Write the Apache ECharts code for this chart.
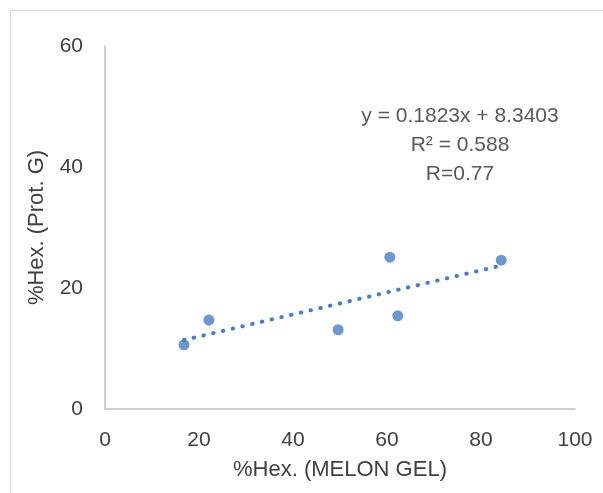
<!DOCTYPE html>
<html>
<head>
<meta charset="utf-8">
<script src="https://cdn.jsdelivr.net/npm/echarts@6/dist/echarts.min.js"></script>
<style>html,body{margin:0;padding:0;background:#fff;}#c{width:603px;height:493px;}</style>
</head>
<body>
<div id="c"></div>
<script>
var xValues = [16.8, 22.1, 49.6, 60.6, 62.3, 84.3];
var yValues = [10.6, 14.7, 13.1, 25.1, 15.4, 24.6];
var xTicks = [0, 20, 40, 60, 80, 100];
var yTicks = [0, 20, 40, 60];
var slope = 0.1823, intercept = 8.3403;
var eqLines = ['y = 0.1823x + 8.3403', 'R\u00B2 = 0.588', 'R=0.77'];

var pts = xValues.map(function (x, i) { return [x, yValues[i]]; });
var xMin = Math.min.apply(null, xValues), xMax = Math.max.apply(null, xValues);
var trend = [[xMin, slope * xMin + intercept], [xMax, slope * xMax + intercept]];

var font = '"Liberation Sans", Arial, sans-serif';
var chart = echarts.init(document.getElementById('c'));
chart.setOption({
  animation: false,
  backgroundColor: '#fff',
  grid: { left: 105, right: 28, top: 46, bottom: 84 },
  xAxis: {
    type: 'value', min: xTicks[0], max: xTicks[xTicks.length - 1], interval: xTicks[1] - xTicks[0],
    name: '%Hex. (MELON GEL)', nameLocation: 'middle', nameGap: 50,
    nameTextStyle: { fontSize: 22, color: '#404040', fontFamily: font },
    axisLine: { lineStyle: { color: '#bfbfbf', width: 1.5 } },
    axisTick: { show: false },
    splitLine: { show: false },
    axisLabel: { fontSize: 21, color: '#404040', fontFamily: font, margin: 21 }
  },
  yAxis: {
    type: 'value', min: yTicks[0], max: yTicks[yTicks.length - 1], interval: yTicks[1] - yTicks[0],
    name: '%Hex. (Prot. G)', nameLocation: 'middle', nameGap: 57,
    nameTextStyle: { fontSize: 22, color: '#404040', fontFamily: font },
    axisLine: { show: true, lineStyle: { color: '#bfbfbf', width: 1.5 } },
    axisTick: { show: false },
    splitLine: { show: false },
    axisLabel: { fontSize: 21, color: '#404040', fontFamily: font, margin: 22 }
  },
  graphic: [
    { type: 'rect', shape: { x: 10.5, y: 10.5, width: 640, height: 540 }, style: { fill: 'none', stroke: '#d9d9d9', lineWidth: 1 }, silent: true },
    { type: 'text', x: 460, y: 102, style: { text: eqLines.join('\n'), fill: '#595959', font: '21px ' + font, align: 'center', textAlign: 'center', lineHeight: 29 } }
  ],
  series: [
    {
      type: 'line', data: trend, showSymbol: false, symbol: 'none', z: 1,
      lineStyle: { color: '#4a7ebf', width: 4, type: [0.5, 9.5], cap: 'round' }
    },
    {
      type: 'scatter', data: pts, symbol: 'circle', symbolSize: 11, z: 2,
      itemStyle: { color: '#4a7ebf' }
    }
  ]
});
</script>
</body>
</html>
